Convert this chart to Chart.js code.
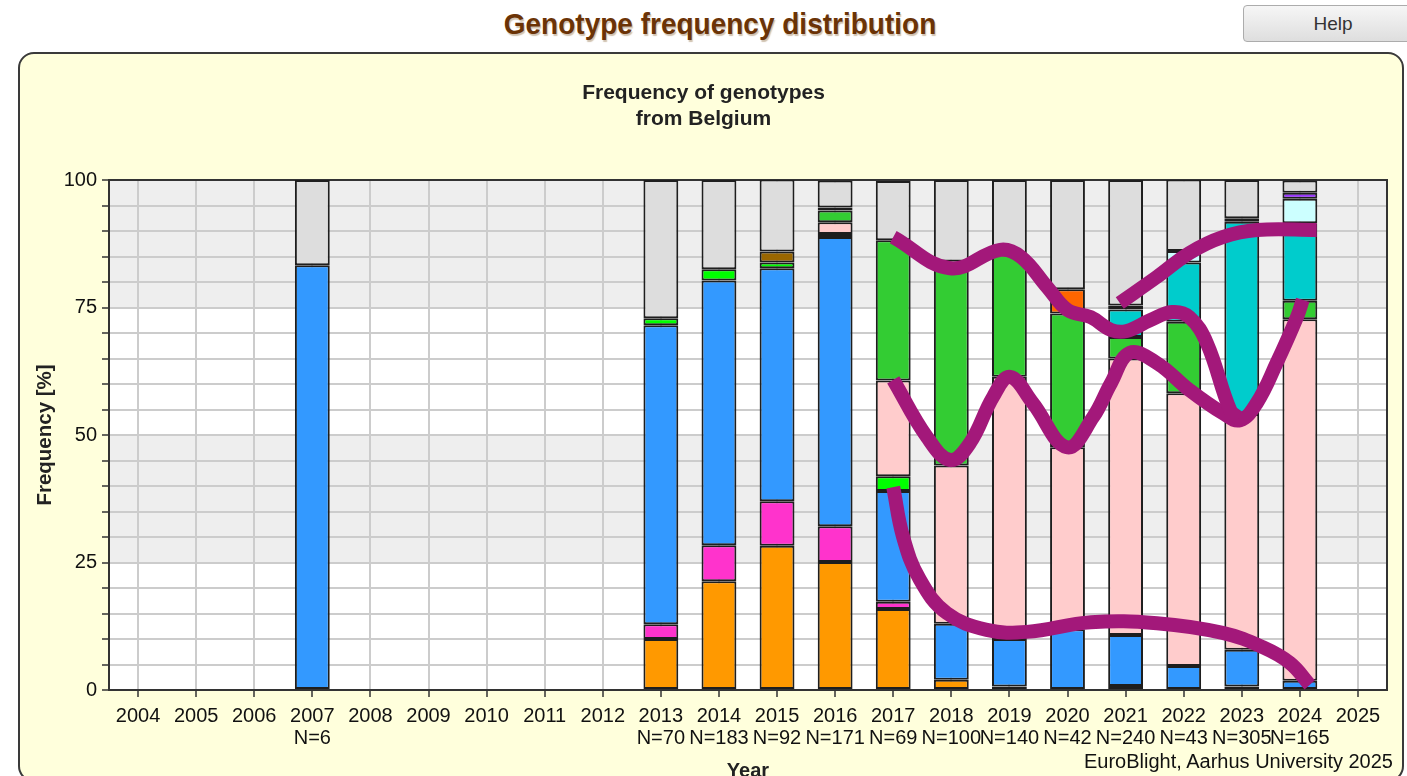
<!DOCTYPE html>
<html>
<head>
<meta charset="utf-8">
<title>Genotype frequency distribution</title>
<script src="https://cdn.jsdelivr.net/npm/chart.js@4.4.1/dist/chart.umd.min.js"></script>
<style>
  html, body { margin: 0; padding: 0; background: #fff; }
  body { width: 1407px; height: 776px; position: relative; overflow: hidden; font-family: "Liberation Sans", Arial, sans-serif; }
  .page-title { position: absolute; left: 0; width: 1440px; top: 9px; text-align: center; font-size: 28px; font-weight: bold; color: #6b3306; text-shadow: 1px 1px 1px rgba(120,80,30,0.35); transform: scaleY(1.05); }
  .help { position: absolute; left: 1243px; top: 5px; width: 180px; height: 37px; border: 1px solid #acacac; border-radius: 4px; background: linear-gradient(#f6f6f6, #dedede); font: 19px "Liberation Sans", Arial, sans-serif; color: #333; padding: 0; text-align: center; }
  .panel { position: absolute; left: 18px; top: 52px; width: 1382px; height: 726px; border: 2px solid #3a3a3a; border-radius: 16px; background: #ffffdc; }
  #genotype-chart { position: absolute; left: 0; top: 0; }
  .credit { position: absolute; right: 14px; top: 750px; font-size: 20px; color: #111; }
</style>
</head>
<body>
<div class="page-title">Genotype frequency distribution</div>
<button class="help">Help</button>
<div class="panel"></div>
<canvas id="genotype-chart" width="1407" height="776"></canvas>
<div class="credit">EuroBlight, Aarhus University 2025</div>
<script>
// categories and sample sizes
const years = ['2004', '2005', '2006', '2007', '2008', '2009', '2010', '2011', '2012', '2013', '2014',
  '2015', '2016', '2017', '2018', '2019', '2020', '2021', '2022', '2023', '2024', '2025'];
const sampleSize = [null, null, null, 6, null, null, null, null, null, 70, 183, 92, 171, 69, 100, 140, 42, 240, 43, 305, 165, null];

// genotype shares in % per year (bottom to top of each stack)
const orangeShare    = [null, null, null, null, null, null, null, null, null, 10.0, 21.3, 28.3, 25.1, 15.9, 2.0, 0.7, null, null, null, null, null, null];
const magentaShare   = [null, null, null, null, null, null, null, null, null, 2.9, 7.1, 8.7, 7.0, 1.4, null, null, null, 0.8, null, 0.7, null, null];
const blueShare      = [null, null, null, 83.3, null, null, null, null, null, 58.6, 51.9, 45.7, 56.7, 21.7, 11.0, 9.3, 11.9, 10.0, 4.7, 7.2, 1.8, null];
const limeShare      = [null, null, null, null, null, null, null, null, null, 1.4, 2.2, 1.1, 0.6, 2.9, null, null, null, null, null, null, null, null];
const pinkShare      = [null, null, null, null, null, null, null, null, null, null, null, null, 2.3, 18.8, 31.0, 51.4, 35.7, 54.2, 53.5, 46.2, 70.9, null];
const greenShare     = [null, null, null, null, null, null, null, null, null, null, null, null, 2.3, 27.5, 40.0, 24.3, 26.2, 4.2, 14.0, null, 3.6, null];
const redOrangeShare = [null, null, null, null, null, null, null, null, null, null, null, null, null, null, null, null, 4.8, null, null, null, null, null];
const brownShare     = [null, null, null, null, null, null, null, null, null, null, null, 2.2, null, null, null, null, null, null, null, null, null, null];
const tealShare      = [null, null, null, null, null, null, null, null, null, null, null, null, null, null, null, null, null, 5.4, 11.6, 37.7, 15.2, null];
const navyShare      = [null, null, null, null, null, null, null, null, null, null, null, null, 0.6, null, null, null, null, 0.8, null, null, null, null];
const lightCyanShare = [null, null, null, null, null, null, null, null, null, null, null, null, null, null, null, null, null, null, 2.3, 0.7, 4.8, null];
const purpleShare    = [null, null, null, null, null, null, null, null, null, null, null, null, null, null, null, null, null, null, null, null, 1.2, null];
const otherShare     = [null, null, null, 16.7, null, null, null, null, null, 27.1, 17.5, 14.1, 5.3, 11.6, 16.0, 14.3, 21.4, 24.6, 14.0, 7.5, 2.4, null];

// hand-drawn marker strokes over the chart, as [year, %] points
const strokeUpper = [[2017.0, 88.8], [2017.98, 82.7], [2018.84, 86.3], [2019.2, 84.9], [2019.65, 79.0], [2020.0, 74.5],
  [2020.4, 73.1], [2020.75, 70.6], [2021.02, 70.4], [2021.42, 72.5], [2021.8, 74.1], [2022.1, 73.1], [2022.4, 68.0], [2022.8, 54.9], [2022.95, 53.3]];
const strokeMiddle = [[2017.0, 60.8], [2017.58, 49.6], [2017.98, 45.1], [2018.32, 48.4], [2018.72, 57.5], [2019.01, 61.4],
  [2019.4, 56.3], [2019.99, 47.6], [2020.44, 53.5], [2020.75, 60.2], [2021.07, 66.1], [2021.54, 64.1], [2022.1, 58.8],
  [2022.67, 54.3], [2022.97, 52.9], [2023.26, 56.3], [2023.6, 64.1], [2023.95, 73.1], [2024.05, 76.5]];
const strokeRight = [[2020.9, 75.9], [2021.54, 81.0], [2022.1, 85.7], [2022.67, 88.8], [2023.26, 90.2], [2024.29, 90.2]];
const strokeLower = [[2017.0, 39.8], [2017.17, 30.0], [2017.46, 21.6], [2017.92, 15.1], [2018.61, 11.8], [2019.3, 11.4],
  [2020.4, 13.3], [2021.54, 13.1], [2022.67, 11.2], [2023.36, 8.4], [2023.83, 5.3], [2024.17, 1.0]];

const FONT = '"Liberation Sans", Arial, sans-serif';

const barSeries = [
  { label: 'orange', data: orangeShare, color: '#ff9900' },
  { label: 'magenta', data: magentaShare, color: '#ff33cc' },
  { label: 'blue', data: blueShare, color: '#3399ff' },
  { label: 'lime', data: limeShare, color: '#00ff00' },
  { label: 'pink', data: pinkShare, color: '#ffcccc' },
  { label: 'green', data: greenShare, color: '#33cc33' },
  { label: 'red-orange', data: redOrangeShare, color: '#ff6600' },
  { label: 'brown', data: brownShare, color: '#996600' },
  { label: 'teal', data: tealShare, color: '#00cccc' },
  { label: 'navy', data: navyShare, color: '#000080' },
  { label: 'light cyan', data: lightCyanShare, color: '#ccffff' },
  { label: 'purple', data: purpleShare, color: '#9933ff' },
  { label: 'other', data: otherShare, color: '#dddddd' },
];

const strokes = [strokeUpper, strokeMiddle, strokeRight, strokeLower];

const datasets = barSeries.map(s => ({
  type: 'bar',
  label: s.label,
  data: s.data,
  backgroundColor: s.color,
  borderColor: '#1e1e1e',
  borderWidth: 2,
  borderSkipped: false,
  grouped: false,
  barPercentage: 0.6,
  categoryPercentage: 1,
  order: 2,
}));

strokes.forEach((pts, i) => {
  datasets.push({
    type: 'line',
    label: 'mark ' + (i + 1),
    data: pts.map(p => ({ x: p[0], y: p[1] })),
    xAxisID: 'xMark',
    yAxisID: 'yMark',
    borderColor: '#a3187a',
    borderWidth: 14,
    borderCapStyle: 'butt',
    borderJoinStyle: 'round',
    tension: 0.4,
    pointRadius: 0,
    fill: false,
    order: 1,
  });
});

// shaded bands 25-50 and 75-100, white elsewhere
const bandPlugin = {
  id: 'bands',
  beforeDraw(chart) {
    const { ctx, chartArea: a, scales: { y } } = chart;
    ctx.save();
    ctx.fillStyle = '#ffffff';
    ctx.fillRect(a.left, a.top, a.right - a.left, a.bottom - a.top);
    ctx.fillStyle = '#eeeeee';
    [[25, 50], [75, 100]].forEach(([lo, hi]) => {
      const top = y.getPixelForValue(hi);
      ctx.fillRect(a.left, top, a.right - a.left, y.getPixelForValue(lo) - top);
    });
    ctx.restore();
  },
  beforeDatasetsDraw(chart) {
    const { ctx, chartArea: a } = chart;
    ctx.save();
    ctx.strokeStyle = '#333';
    ctx.lineWidth = 2;
    ctx.strokeRect(a.left, a.top, a.right - a.left, a.bottom - a.top);
    ctx.restore();
  },
};

new Chart(document.getElementById('genotype-chart'), {
  data: {
    labels: years.map((y, i) => [y, sampleSize[i] ? 'N=' + sampleSize[i] : '']),
    datasets,
  },
  options: {
    responsive: false,
    animation: false,
    devicePixelRatio: 1,
    layout: { padding: { left: 20, right: 20, top: 81, bottom: 0 } },
    plugins: {
      legend: { display: false },
      tooltip: { enabled: false },
      title: {
        display: true,
        text: ['Frequency of genotypes', 'from Belgium'],
        color: '#222',
        font: { family: FONT, size: 21, weight: 'bold', lineHeight: 1.2 },
        padding: { top: 0, bottom: 48.6 },
      },
    },
    scales: {
      x: {
        stacked: true,
        offset: true,
        afterFit(scale) { scale.height = 86; },
        grid: { offset: false, color: '#cccccc', lineWidth: 2, tickColor: '#333', tickLength: 7, tickWidth: 1.5 },
        border: { display: true, color: '#333', width: 2 },
        ticks: {
          autoSkip: false, maxRotation: 0, padding: 8, color: '#111',
          font: { family: FONT, size: 20, lineHeight: 1.1 },
        },
        title: {
          display: true, text: 'Year', color: '#222',
          font: { family: FONT, size: 20, weight: 'bold' },
          padding: { top: 0, bottom: -7 },
        },
      },
      y: {
        stacked: true,
        min: 0,
        max: 100,
        afterFit(scale) { scale.width = 89; },
        grid: { color: '#cccccc', lineWidth: 2, tickColor: '#333', tickLength: 7, tickWidth: 1.5 },
        border: { display: true, color: '#333', width: 2 },
        ticks: {
          stepSize: 5, autoSkip: false, maxTicksLimit: 30, padding: 5, color: '#111',
          font: { family: FONT, size: 20, lineHeight: 1 },
          callback: v => (v % 25 === 0 ? v : ''),
        },
        title: {
          display: true, text: 'Frequency [%]', color: '#222',
          font: { family: FONT, size: 20.5, weight: 'bold' },
          padding: { top: 13, bottom: 0 },
        },
      },
      xMark: { type: 'linear', display: false, min: 2003.5, max: 2025.5 },
      yMark: { type: 'linear', display: false, min: 0, max: 100 },
    },
  },
  plugins: [bandPlugin],
});
</script>
</body>
</html>
